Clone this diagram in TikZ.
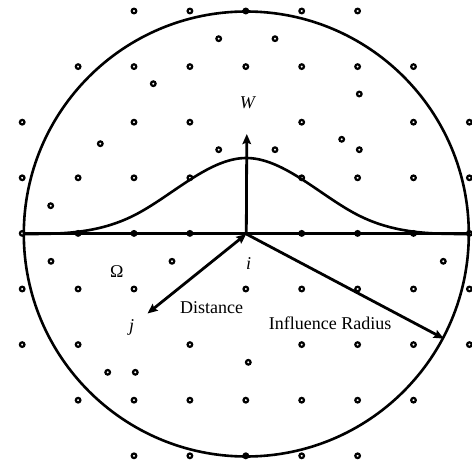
\documentclass[tikz,border=0pt]{standalone}
\usepackage{fontspec}
\setmainfont{Liberation Serif}
\usetikzlibrary{arrows.meta}
\begin{document}
\begin{tikzpicture}[x=1pt,y=-1pt,
  declare function={ks(\q)=(\q<1) ? (1-1.5*\q*\q+0.75*\q*\q*\q) : ((\q<2) ? (0.25*(2-\q)*(2-\q)*(2-\q)) : 0);},
  dot/.style={circle,draw,line width=2.2pt,inner sep=0pt,minimum size=4.6pt},
  bigcirc/.style={circle,draw,line width=2.6pt,inner sep=0pt,minimum size=445pt},
  axis/.style={line width=3pt},
  curveline/.style={line width=2.6pt},
  arr/.style={line width=2.8pt,-{Stealth[length=10pt,width=8.5pt,inset=1.5pt]}},
  darr/.style={line width=2.8pt,{Stealth[length=10pt,width=8.5pt,inset=1.5pt]}-{Stealth[length=10pt,width=8.5pt,inset=1.5pt]}},
  lbl/.style={font=\fontsize{18}{20}\selectfont,inner sep=0pt}]
\useasboundingbox (0,0) rectangle (472,468);
\coordinate (C) at (246.3,234);
\node[bigcirc] (big) at (C) {};
% grid dots
\foreach \c/\r in {3/1,4/1,5/1,6/1,7/1,
  2/2,3/2,4/2,5/2,6/2,7/2,8/2,
  1/3,3/3,4/3,6/3,8/3,9/3,
  1/4,2/4,3/4,4/4,6/4,7/4,8/4,9/4,
  1/5,2/5,3/5,4/5,6/5,7/5,8/5,9/5,
  1/6,2/6,3/6,5/6,6/6,7/6,8/6,9/6,
  1/7,2/7,4/7,6/7,7/7,8/7,9/7,
  2/8,3/8,4/8,5/8,6/8,7/8,8/8,
  3/9,4/9,5/9,6/9,7/9}
  \node[dot] (g-\c-\r) at ({22.2+(\c-1)*55.9},{11+(\r-1)*55.6}) {};
% off-grid dots
\foreach \px/\py [count=\k] in {218.7/38.7,275/38.7,153.3/83.7,359.3/94,100.3/143.7,
  218.7/149.7,341.7/139.3,275/149.7,359.3/149.7,50.7/205.7,51/261.3,172/261.3,
  443.3/261.3,107.7/372.3,135.3/372.3,248.3/362.3}
  \node[dot] (o\k) at (\px,\py) {};
% axis and kernel curve
\draw[axis] (big.west) -- (big.east);
\draw[curveline] plot[domain=-222.5:222.5,samples=151,smooth] ({246.3+\x},{234-76*ks(abs(\x)/111.5)});
% arrows
\coordinate (Wtip) at (246.8,134);
\coordinate (jtip) at (147.5,313.5);
\coordinate (Rtip) at (443.8,338.6);
\draw[arr] (C) -- (Wtip);
\draw[darr] (C) -- (jtip);
\draw[arr] (C) -- (Rtip);
% labels
\node[lbl,anchor=base] (W) at (248,108.3) {\textit{W}};
\node[lbl,anchor=base] (i) at (248.5,269.3) {\textit{i}};
\node[lbl,anchor=base] (j) at (131.7,332) {\textit{j}};
\node[lbl,anchor=base] (Om) at (116.7,277.3) {Ω};
\node[lbl,anchor=base west] (dist) at (180,313) {Distance};
\node[lbl,anchor=base] (infl) at (330.2,329.3) {Influence Radius};
\end{tikzpicture}
\end{document}
